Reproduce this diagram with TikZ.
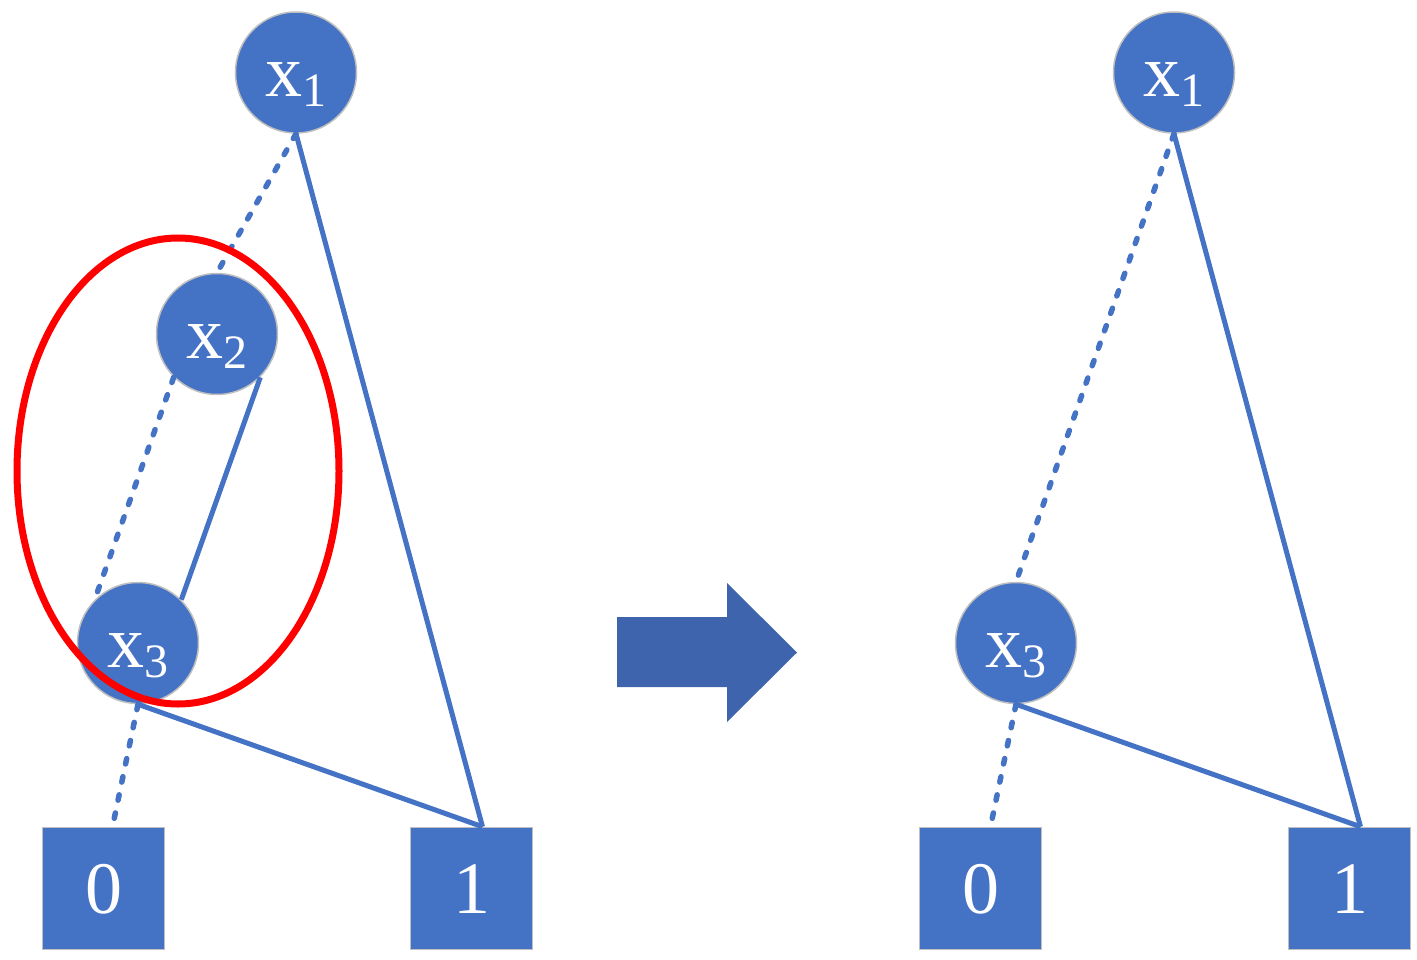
\documentclass[tikz,border=0pt]{standalone}
\usepackage{fontspec}
\setmainfont{Liberation Serif}
\usetikzlibrary{calc}
\definecolor{nodeblue}{HTML}{4472C4}
\definecolor{arrowblue}{HTML}{3E64AE}
\definecolor{rimgray}{HTML}{BFBFBF}
\newcommand\vlab[1]{\raisebox{-24.5pt}[0pt][0pt]{x\raisebox{-10pt}{\fontsize{48}{50}\selectfont #1}}}
\newcommand\tlab[1]{\raisebox{-24.5pt}[0pt][0pt]{#1}}
\begin{document}
\begin{tikzpicture}[x=1pt,y=-1pt,
  vnode/.style={circle,fill=nodeblue,draw=rimgray,line width=1.5pt,minimum size=121pt,inner sep=0pt,text=white,font=\fontsize{74}{80}\selectfont},
  tnode/.style={rectangle,fill=nodeblue,draw=rimgray,line width=1.5pt,minimum size=122pt,inner sep=0pt,text=white,font=\fontsize{74}{80}\selectfont},
  hiedge/.style={draw=nodeblue,line width=5pt},
  loedge/.style={draw=nodeblue,line width=5.5pt,line cap=round,dash pattern=on 5.5pt off 13pt},
  ring/.style={draw=red,line width=7pt}]
\useasboundingbox (0,0) rectangle (1417,960);
% left diagram nodes
\node[vnode] (a1) at (296,72.5) {\vlab{1}};
\node[vnode] (a2) at (217,334) {\vlab{2}};
\node[vnode] (a3) at (138,643) {\vlab{3}};
\node[tnode] (a0t) at (103.5,888.5) {\tlab{0}};
\node[tnode] (a1t) at (471.5,888.5) {\tlab{1}};
% right diagram nodes
\node[vnode] (b1) at (1174,72.5) {\vlab{1}};
\node[vnode] (b3) at (1016,643) {\vlab{3}};
\node[tnode] (b0t) at (980.5,888.5) {\tlab{0}};
\node[tnode] (b1t) at (1349.5,888.5) {\tlab{1}};
% left edges
\draw[loedge] (a1.south) -- (a2.north);
\draw[hiedge] (a1.south) -- ($(a1t.north)+(11,0)$);
\draw[loedge] (a2.225) -- (a3.135);
\draw[hiedge] (a2.315) -- (a3.45);
\draw[loedge] (a3.south) -- ($(a0t.north)+(9,0)$);
\draw[hiedge] (a3.south) -- ($(a1t.north)+(11,0)$);
% right edges
\draw[loedge] (b1.south) -- (b3.north);
\draw[hiedge] (b1.south) -- ($(b1t.north)+(11,0)$);
\draw[loedge] (b3.south) -- ($(b0t.north)+(10,0)$);
\draw[hiedge] (b3.south) -- ($(b1t.north)+(11,0)$);
% transformation arrow
\fill[arrowblue] (617,617) -- (727,617) -- (727,583) -- (797,652.5) -- (727,722) -- (727,687) -- (617,687) -- cycle;
% highlight ellipse
\draw[ring] (178,471) ellipse [x radius=161pt, y radius=233pt];
\end{tikzpicture}
\end{document}
